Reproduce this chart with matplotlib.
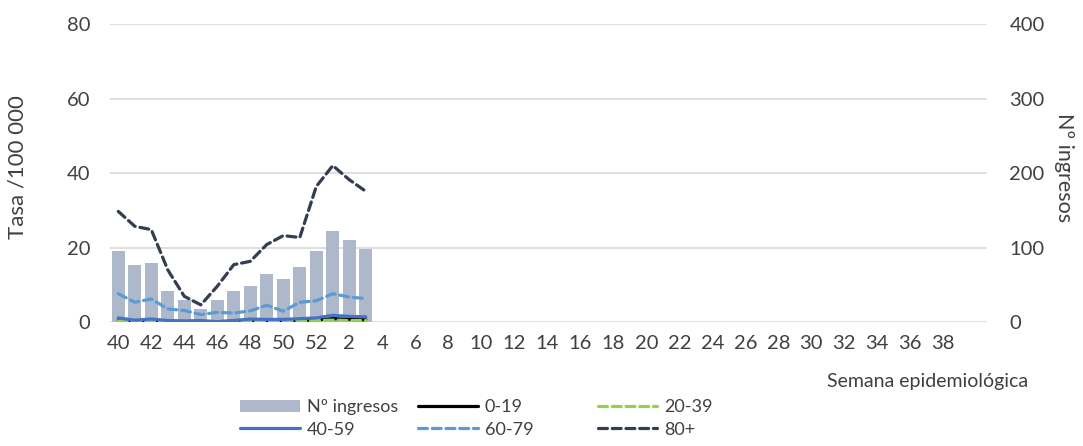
import numpy as np
import matplotlib
matplotlib.use("Agg")
import matplotlib.pyplot as plt

plt.rcParams['font.family'] = ['Lato', 'DejaVu Sans']

# epidemiological weeks 40..52, then 1..39
weeks = list(range(40, 53)) + list(range(1, 40))

# number of admissions (right axis)
ingresos = [96, 76, 79, 42, 30, 18, 30, 42, 49, 64, 58, 74, 96, 122, 110, 98]

# rates per 100 000 by age group (left axis)
r_0_19 = [0.4, 0.3, 0.3, 0.2, 0.1, 0.1, 0.1, 0.2, 0.5, 0.3, 0.4, 0.4, 0.6, 0.9, 0.7, 0.6]
r_20_39 = [0.3, 0.2, 0.2, 0.1, 0.1, 0.1, 0.1, 0.2, 0.2, 0.2, 0.2, 0.3, 0.4, 0.5, 0.4, 0.4]
r_40_59 = [1.1, 0.5, 0.8, 0.4, 0.3, 0.4, 0.1, 0.4, 0.8, 0.7, 0.7, 0.9, 1.1, 1.8, 1.5, 1.4]
r_60_79 = [7.6, 5.3, 6.2, 3.5, 3.1, 2.0, 2.6, 2.4, 3.0, 4.5, 2.9, 5.3, 5.7, 7.6, 6.7, 6.3]
r_80 = [29.7, 25.7, 24.8, 14.0, 6.9, 4.6, 9.6, 15.4, 16.3, 20.8, 23.2, 22.7, 36.4, 42.0, 38.2, 35.1]

text_col = '#404040'
grid_col = '#D9D9D9'

fig = plt.figure(figsize=(10.83, 4.46), dpi=100)
ax = fig.add_axes([0.1016, 0.278, 0.8098, 0.668])
ax2 = ax.twinx()

x = np.arange(len(weeks))
xd = x[:len(ingresos)]

# bars on secondary axis, behind the lines
bars = ax2.bar(xd, ingresos, width=0.78, color='#ADB9CA', zorder=2)
ax2.set_ylim(0, 400)
ax2.set_yticks([0, 100, 200, 300, 400])
ax2.yaxis.grid(True, color=grid_col, lw=1.2, zorder=0)
ax2.set_axisbelow(True)

ax.set_zorder(ax2.get_zorder() + 1)
ax.patch.set_visible(False)

lw = 2.3
dash = (0, (2.8, 1.5))
h1, = ax.plot(xd, r_0_19, color='black', lw=lw, solid_capstyle='round')
h2, = ax.plot(xd, r_20_39, color='#92D050', lw=lw, ls=dash, dash_capstyle='round')
h3, = ax.plot(xd, r_40_59, color='#4472C4', lw=lw, solid_capstyle='round')
h4, = ax.plot(xd, r_60_79, color='#5B9BD5', lw=lw, ls=dash, dash_capstyle='round')
h5, = ax.plot(xd, r_80, color='#333F50', lw=lw, ls=dash, dash_capstyle='round')

ax.set_ylim(0, 80)
ax.set_yticks([0, 20, 40, 60, 80])
ax.set_xlim(-0.5, 52.65)
ax.set_xticks(x[::2])
ax.set_xticklabels([str(w) for w in weeks[::2]])

for a in (ax, ax2):
    for s in a.spines.values():
        s.set_visible(False)
    a.tick_params(length=0, colors=text_col, labelsize=14.5)
ax.tick_params(axis='y', pad=14)
ax2.tick_params(axis='y', pad=16)
ax.tick_params(axis='x', pad=9)

ax.set_ylabel('Tasa /100 000', color=text_col, fontsize=16, va='center', ha='center')
ax.yaxis.set_label_coords(-0.105, 0.52)
ax2.set_ylabel('Nº ingresos', color=text_col, fontsize=15.5, rotation=-90,
               va='center', ha='center')
ax2.yaxis.set_label_coords(1.088, 0.52)

fig.text(0.949, 0.145, 'Semana epidemiológica', color=text_col, fontsize=14,
         ha='right', va='center')

# legend: three fixed-position columns, like the original
cols = [([bars, h3], ['Nº ingresos', '40-59'], 0.2216),
        ([h1, h4], ['0-19', '60-79'], 0.386),
        ([h2, h5], ['20-39', '80+'], 0.552)]
for hs, ls, xpos in cols:
    fig.legend(hs, ls, loc='center left', bbox_to_anchor=(xpos, 0.0616),
               frameon=False, fontsize=13, labelcolor=text_col,
               handlelength=3.3, handletextpad=0.4, labelspacing=0.35,
               borderpad=0, borderaxespad=0)

fig.savefig('out.png', dpi=100)
